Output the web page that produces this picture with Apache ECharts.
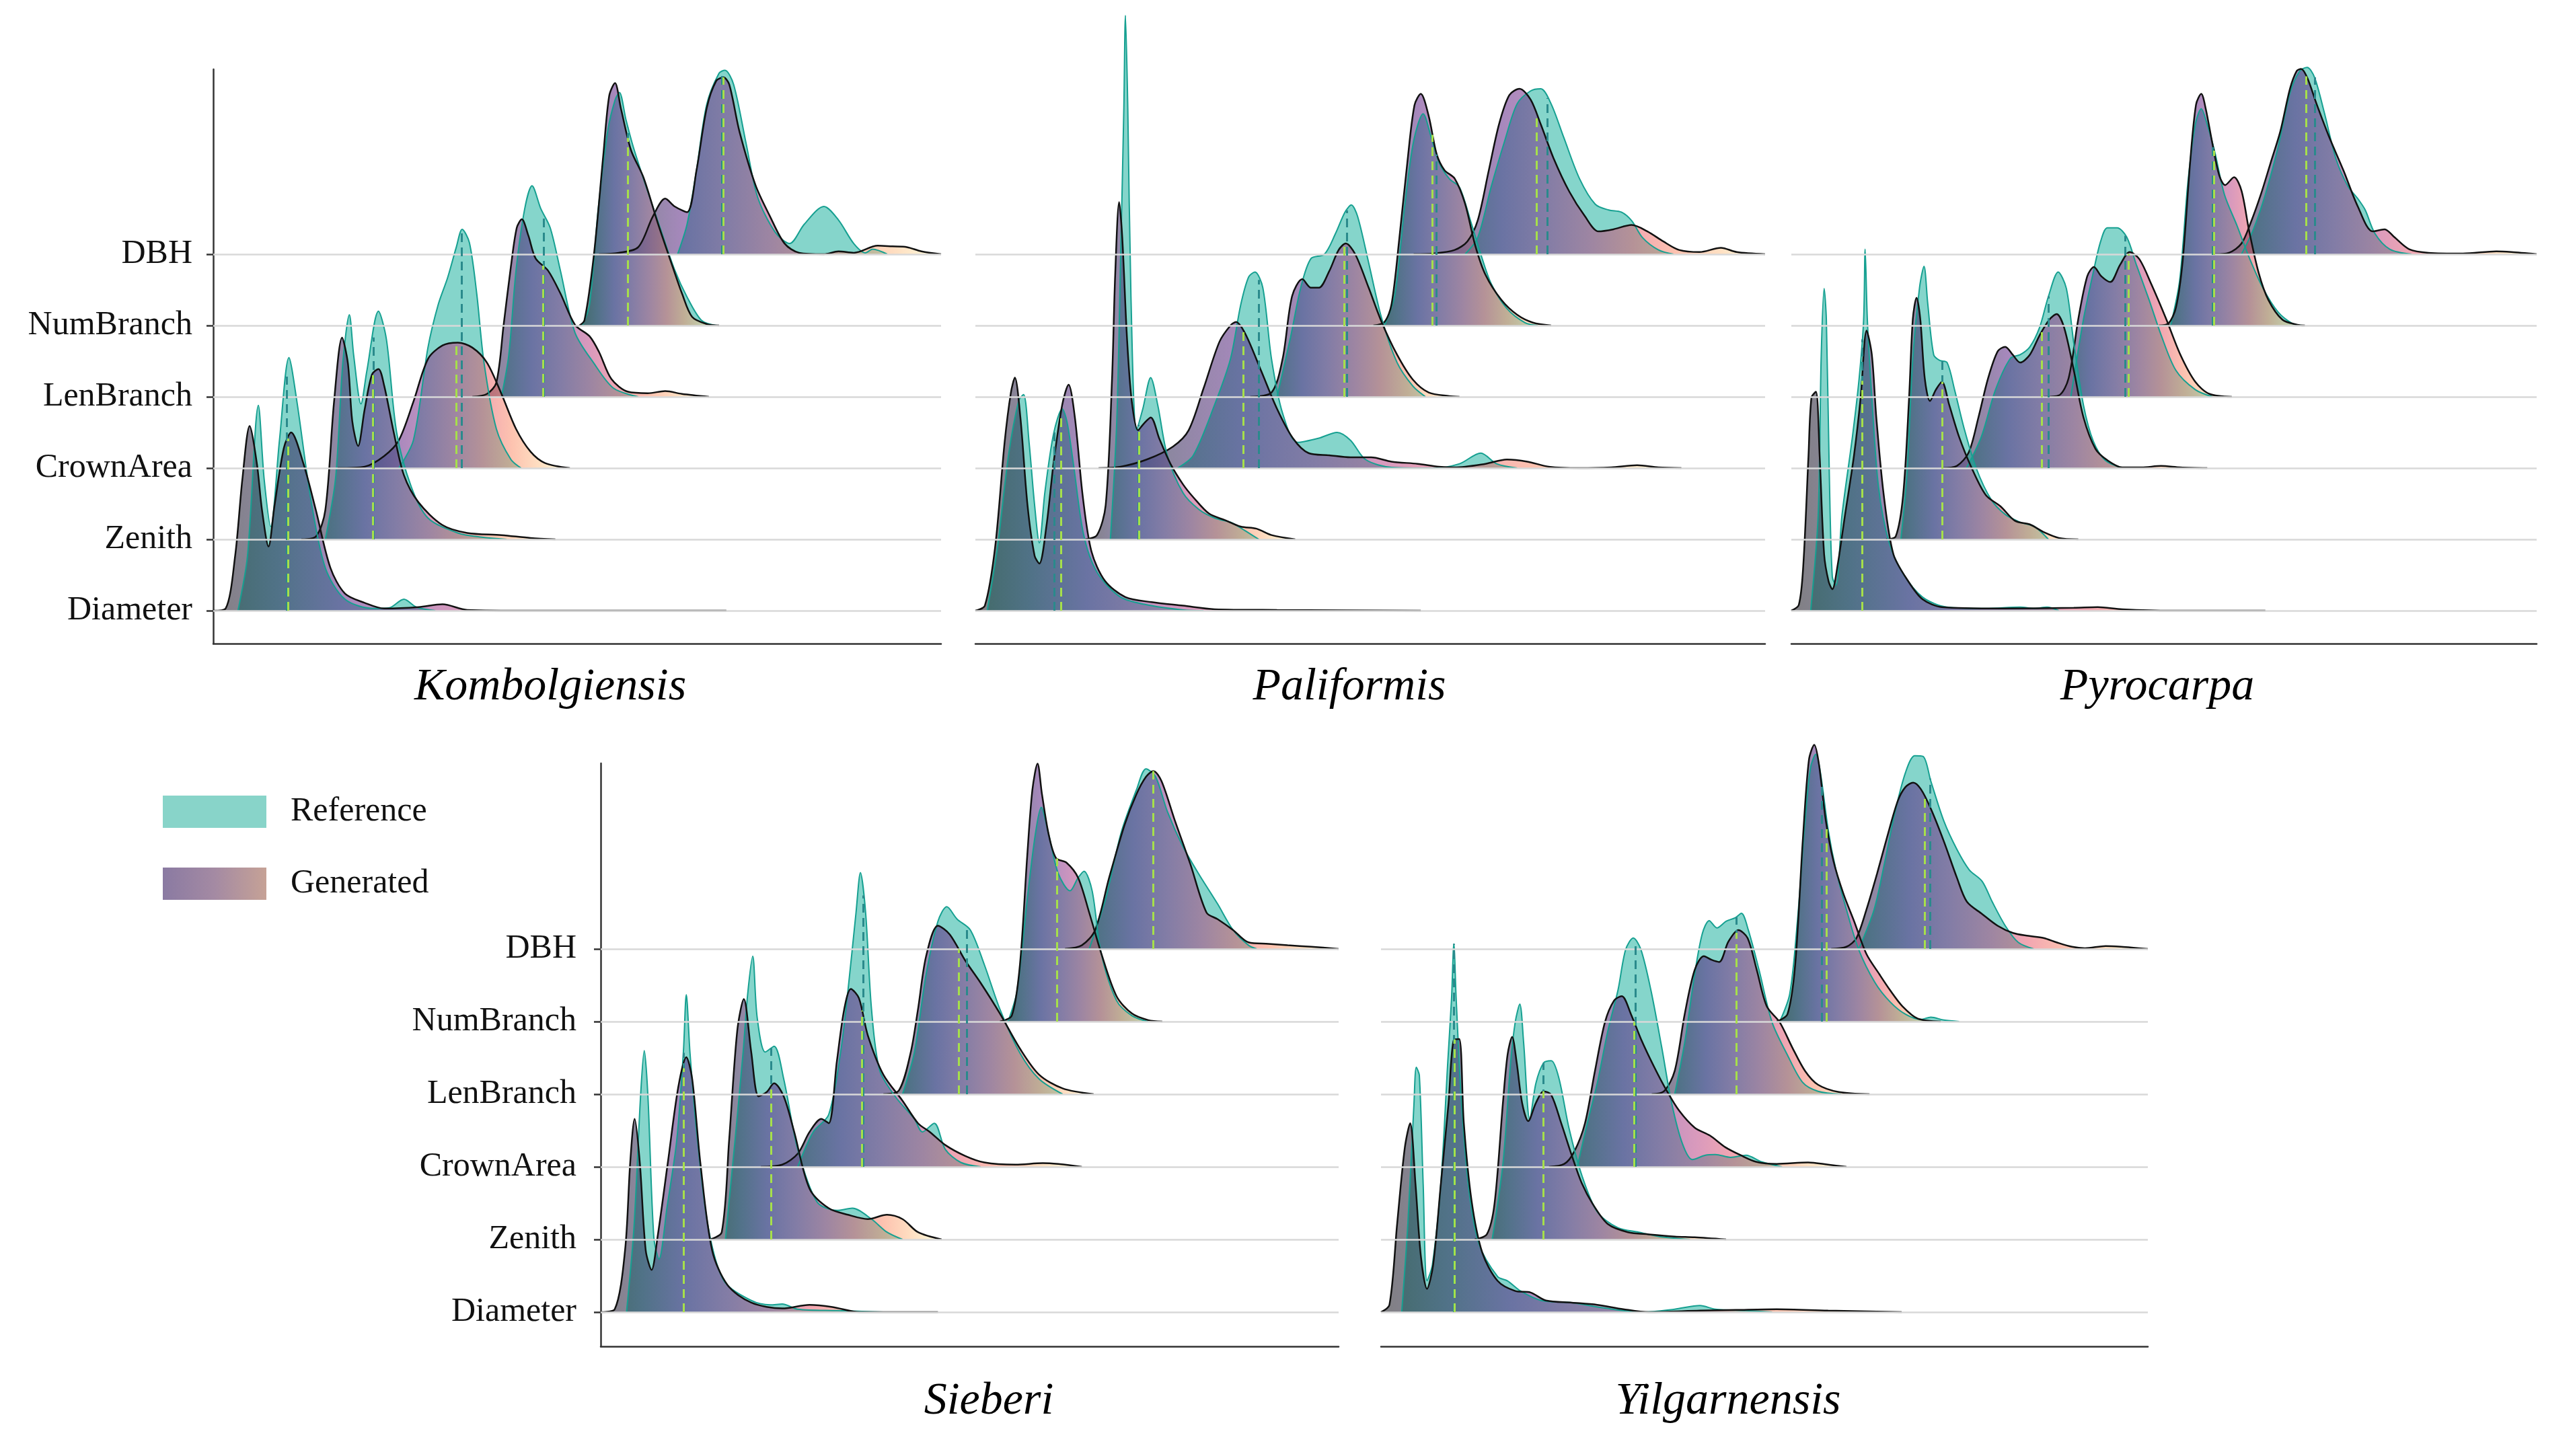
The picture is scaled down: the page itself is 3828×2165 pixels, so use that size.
<!DOCTYPE html>
<html>
<head>
<meta charset="utf-8">
<title>Ridgelines</title>
<script src="https://cdn.jsdelivr.net/npm/echarts@6/dist/echarts.min.js"></script>
<style>
  html, body { margin: 0; padding: 0; background: #fff; }
  #chart { width: 3828px; height: 2165px; }
</style>
</head>
<body>
<div id="chart"></div>
<script>
// traits, bottom ridge first
const traitNames = ['Diameter', 'Zenith', 'CrownArea', 'LenBranch', 'NumBranch', 'DBH']
const speciesNames = ['Kombolgiensis', 'Paliformis', 'Pyrocarpa', 'Sieberi', 'Yilgarnensis']

// each curve: [x position 0-100 along the panel, density height in ridge spacings]
const kombolgiensisRef = [
  [[3.4,0],[4.7,0.76],[6.2,2.88],[7.0,1.84],[7.9,1.18],[9.1,2.39],[10.4,3.55],[11.5,2.93],[13.4,1.57],[15.4,0.6],[18.1,0.16],[22.1,0.03],[24.2,0.04],[26.2,0.16],[27.9,0.05],[30.5,0]],
  [[15.4,0],[16.8,0.85],[17.8,2.47],[18.7,3.15],[19.3,2.58],[20.3,1.9],[21.1,2.36],[22.7,3.2],[23.8,2.8],[25.2,1.5],[27.2,0.74],[29.5,0.3],[33.6,0.09],[36.9,0.03],[40.3,0]],
  [[25.5,0],[27.5,0.39],[29.5,1.69],[30.9,2.29],[32.2,2.67],[33.4,3.1],[34.2,3.35],[35.2,3.16],[36.2,2.45],[37.2,1.48],[38.9,0.55],[40.9,0.12],[42.3,0]],
  [[39.6,0],[40.6,0.58],[41.6,1.77],[42.8,2.64],[43.8,2.96],[45.0,2.64],[46.3,2.37],[47.7,1.77],[49.7,0.9],[52.3,0.47],[55.0,0.12],[58.4,0]],
  [[50.7,0],[51.7,0.29],[52.9,1.64],[54.2,2.73],[55.2,3.16],[55.8,3.27],[56.7,2.89],[57.7,2.51],[59.4,1.97],[61.4,1.37],[63.4,0.78],[65.1,0.4],[67.1,0.07],[69.1,0]],
  [[63.8,0],[65.1,0.42],[66.4,1.18],[67.8,2.1],[69.5,2.54],[70.3,2.58],[71.5,2.38],[73.2,1.56],[74.8,0.8],[77.2,0.31],[79.2,0.15],[81.2,0.42],[83.9,0.67],[85.9,0.48],[88.0,0.15],[89.6,0.02],[90.6,0.07],[92.6,0]]
]
const kombolgiensisGen = [
  [[0,0],[1.7,0.03],[3.0,0.76],[4.0,1.84],[5.0,2.59],[6.0,2.06],[6.7,1.41],[7.6,0.9],[8.4,1.46],[9.7,2.28],[10.7,2.5],[12.4,2.06],[14.1,1.41],[16.1,0.6],[18.1,0.24],[20.8,0.11],[23.5,0.03],[28.2,0.05],[31.5,0.09],[34.9,0.01],[43.6,0],[70.5,0]],
  [[12.1,0],[14.1,0.04],[15.4,0.41],[16.6,1.93],[17.7,2.83],[18.5,2.47],[19.1,1.66],[19.9,1.31],[20.8,1.82],[21.8,2.31],[22.7,2.39],[23.5,2.15],[24.8,1.5],[26.2,0.9],[28.2,0.52],[31.5,0.2],[34.9,0.09],[39.6,0.06],[43.6,0.02],[47.0,0]],
  [[17.1,0],[20.8,0.02],[23.5,0.17],[25.5,0.39],[27.5,0.93],[29.5,1.53],[31.5,1.72],[33.6,1.76],[35.6,1.69],[37.6,1.48],[39.6,1.04],[41.6,0.55],[43.6,0.23],[45.6,0.07],[49.0,0]],
  [[35.6,0],[37.6,0.04],[38.9,0.2],[39.9,1.01],[40.9,1.83],[41.7,2.37],[42.4,2.49],[43.3,2.26],[44.3,1.94],[46.0,1.77],[47.7,1.45],[49.7,1.01],[51.7,0.85],[53.0,0.63],[54.7,0.25],[57.0,0.07],[59.7,0.05],[62.1,0.08],[64.4,0.04],[68.1,0]],
  [[50.3,0],[51.0,0.07],[52.3,0.99],[53.6,2.4],[54.4,3.22],[55.2,3.4],[56.0,3.05],[57.4,2.46],[59.1,2.08],[61.1,1.43],[63.1,0.83],[64.4,0.45],[65.8,0.12],[67.8,0.02],[69.5,0]],
  [[53.0,0],[55.7,0.02],[58.4,0.1],[60.4,0.53],[62.1,0.78],[63.4,0.67],[65.1,0.59],[66.4,1.18],[67.8,2.05],[69.1,2.43],[70.1,2.48],[70.9,2.38],[72.3,1.72],[74.5,0.97],[76.5,0.53],[78.5,0.15],[80.5,0.02],[83.9,0],[85.9,0.04],[88.0,0.02],[91.3,0.12],[93.3,0.11],[95.3,0.1],[97.3,0.04],[100,0]]
]
const kombolgiensisRefMedian = [10.1, 22.0, 34.1, 45.4, 57.0, 69.9]
const kombolgiensisGenMedian = [10.3, 21.9, 33.4, 45.3, 57.0, 70.1]

const paliformisRef = [
  [[1.5,0],[2.8,0.89],[4.2,2.18],[5.5,2.95],[6.1,3.03],[6.8,2.36],[7.5,1.48],[8.1,0.95],[8.8,1.66],[9.9,2.48],[11.0,2.83],[11.6,2.65],[12.4,2.07],[13.7,1.07],[15.4,0.54],[18.4,0.19],[22.3,0.07],[26.3,0.01],[28.9,0]],
  [[17.1,0],[17.9,1.65],[18.4,4.0],[18.8,6.05],[19.0,7.35],[19.3,6.05],[19.7,3.41],[20.4,1.53],[21.2,1.83],[22.2,2.27],[23.1,1.88],[24.3,1.18],[26.3,0.65],[28.3,0.42],[30.3,0.3],[32.3,0.24],[33.3,0.18],[34.6,0.09],[35.9,0]],
  [[25.6,0],[27.6,0.18],[30.3,0.89],[32.3,1.53],[33.6,2.29],[34.6,2.68],[35.4,2.75],[36.4,2.53],[37.5,1.53],[38.9,0.77],[40.8,0.36],[43.5,0.42],[45.8,0.5],[47.5,0.39],[49.4,0.12],[52.7,0.01],[58.0,0],[61.3,0.06],[64.0,0.21],[66.0,0.06],[68.6,0]],
  [[38.2,0],[39.9,0.83],[41.2,1.53],[42.5,1.94],[44.2,2.0],[45.6,2.29],[46.8,2.59],[47.6,2.69],[48.4,2.53],[49.8,1.88],[51.4,1.12],[53.4,0.48],[55.4,0.15],[57.0,0]],
  [[51.8,0],[53.1,0.42],[54.4,1.71],[55.5,2.59],[56.7,2.97],[57.7,2.65],[58.7,2.29],[60.0,2.06],[61.3,1.94],[62.7,1.47],[64.0,1.0],[65.3,0.59],[67.3,0.24],[69.6,0.04],[71.2,0]],
  [[62.0,0],[63.6,0.23],[65.3,0.94],[67.0,1.58],[68.6,2.11],[70.3,2.29],[71.6,2.32],[72.9,2.11],[74.5,1.64],[76.5,1.06],[78.5,0.7],[80.2,0.62],[81.8,0.59],[83.1,0.47],[84.5,0.23],[86.5,0.06],[88.4,0]]
]
const paliformisGen = [
  [[0,0],[1.2,0.07],[2.5,0.89],[3.7,2.36],[4.5,3.06],[5.0,3.27],[5.7,2.71],[6.6,1.48],[7.5,0.77],[8.1,0.66],[9.0,1.19],[9.9,2.07],[11.0,2.89],[11.8,3.17],[12.6,2.71],[13.6,1.6],[14.7,0.83],[16.4,0.42],[19.0,0.19],[22.3,0.12],[26.3,0.07],[30.3,0.02],[38.2,0.01],[56.4,0]],
  [[13.9,0],[15.4,0.06],[16.5,0.48],[17.3,2.24],[17.7,3.7],[18.2,4.73],[18.6,4.23],[19.2,2.82],[19.8,1.94],[20.6,1.53],[21.3,1.62],[22.2,1.71],[23.3,1.41],[24.7,1.06],[26.3,0.77],[27.6,0.59],[29.6,0.36],[31.6,0.27],[33.6,0.18],[35.6,0.15],[37.5,0.06],[40.5,0]],
  [[15.6,0],[18.4,0.02],[21.7,0.12],[25.0,0.3],[27.0,0.53],[28.9,1.12],[30.9,1.77],[32.3,2.0],[33.0,2.05],[34.2,1.88],[36.2,1.36],[38.2,0.83],[40.2,0.42],[42.2,0.21],[44.8,0.18],[47.5,0.15],[50.1,0.15],[52.7,0.09],[56.0,0.06],[58.7,0.02],[60.7,0.01],[64.6,0.06],[67.3,0.12],[69.9,0.09],[72.6,0.02],[76.5,0],[80.5,0.01],[83.8,0.04],[86.5,0.01],[89.4,0]],
  [[34.8,0],[37.5,0.06],[38.9,0.53],[40.1,1.41],[41.4,1.65],[42.5,1.53],[43.5,1.53],[44.8,1.76],[46.0,2.06],[46.9,2.15],[48.1,2.0],[49.8,1.53],[51.4,1.06],[53.4,0.59],[55.4,0.24],[57.4,0.06],[60.0,0.01],[61.3,0]],
  [[50.4,0],[51.8,0.05],[52.7,0.3],[53.7,1.24],[54.7,2.29],[55.6,3.09],[56.4,3.25],[57.4,2.94],[58.4,2.41],[59.4,2.18],[60.7,2.06],[62.0,1.71],[63.3,1.12],[64.6,0.71],[66.6,0.36],[68.6,0.15],[70.6,0.04],[72.9,0]],
  [[55.5,0],[58.0,0.01],[60.7,0.06],[62.3,0.18],[63.6,0.47],[65.0,1.17],[66.3,1.82],[67.6,2.23],[68.9,2.32],[70.3,2.17],[71.6,1.82],[73.2,1.35],[75.2,0.88],[77.2,0.53],[78.9,0.32],[80.8,0.35],[83.1,0.41],[85.1,0.32],[87.1,0.18],[89.1,0.06],[91.7,0.03],[94.4,0.09],[96.4,0.03],[100,0]]
]
const paliformisRefMedian = [10.0, 20.6, 35.9, 47.0, 58.4, 72.4]
const paliformisGenMedian = [10.8, 20.7, 33.9, 46.7, 57.9, 71.1]

const pyrocarpaRef = [
  [[2.6,0],[3.6,1.34],[4.0,3.54],[4.4,4.52],[4.7,4.08],[5.1,1.89],[5.5,0.47],[6.0,0.36],[6.8,1.34],[8.2,2.44],[9.1,3.26],[9.7,4.08],[9.9,5.07],[10.2,4.08],[10.8,2.99],[11.7,1.73],[13.1,0.96],[15.0,0.52],[17.6,0.19],[20.9,0.05],[26.1,0.03],[30.7,0.05],[32.6,0.03],[34.3,0.05],[35.9,0]],
  [[14.7,0],[15.5,0.89],[16.3,2.54],[17.2,3.53],[17.8,3.83],[18.3,3.31],[19.1,2.59],[19.9,2.51],[20.9,2.48],[21.9,2.1],[23.2,1.55],[24.8,1.0],[26.8,0.56],[28.7,0.35],[30.7,0.24],[32.6,0.18],[34.5,0]],
  [[23.5,0],[25.5,0.44],[27.4,1.1],[29.4,1.54],[30.7,1.59],[32.0,1.7],[33.3,1.97],[34.5,2.41],[35.8,2.75],[36.9,2.52],[37.9,1.75],[39.2,0.88],[40.5,0.38],[42.1,0.11],[44.4,0]],
  [[37.5,0],[39.2,1.09],[40.5,1.74],[41.5,2.18],[42.4,2.37],[43.7,2.37],[45.0,2.24],[46.3,1.85],[48.0,1.36],[49.6,0.87],[51.6,0.37],[54.2,0.1],[56.5,0]],
  [[50.9,0],[52.1,0.63],[53.2,2.0],[54.2,2.82],[55.0,3.04],[55.8,2.82],[56.8,2.44],[58.1,1.84],[59.8,1.4],[61.4,0.96],[63.3,0.52],[65.3,0.19],[67.2,0.03],[68.5,0]],
  [[60.4,0],[62.0,0.35],[63.6,0.84],[65.3,1.5],[66.9,2.26],[68.2,2.57],[69.2,2.62],[70.2,2.48],[71.5,1.99],[73.1,1.33],[74.7,0.95],[76.0,0.78],[77.0,0.62],[78.3,0.29],[80.3,0.07],[83.2,0]]
]
const pyrocarpaGen = [
  [[0,0],[1.0,0.08],[1.6,0.63],[2.3,2.17],[2.7,2.99],[3.3,3.07],[3.8,2.17],[4.4,0.79],[5.0,0.41],[5.5,0.3],[6.2,0.63],[7.2,1.34],[8.4,2.17],[9.3,2.99],[10.1,3.93],[10.8,3.59],[11.4,2.71],[12.4,1.62],[13.7,0.79],[15.7,0.41],[17.6,0.16],[20.2,0.05],[28.1,0.03],[37.9,0.04],[41.1,0.05],[44.4,0.02],[50.9,0],[63.6,0]],
  [[12.7,0],[14.0,0.04],[15.0,0.62],[15.8,1.99],[16.3,3.09],[16.8,3.39],[17.3,3.09],[17.9,2.26],[18.6,1.94],[19.4,2.1],[20.2,2.21],[21.2,1.88],[22.5,1.44],[24.2,1.0],[26.1,0.62],[28.1,0.46],[30.0,0.26],[32.0,0.21],[33.9,0.1],[35.9,0.02],[38.5,0]],
  [[20.2,0],[22.2,0.03],[23.8,0.22],[25.1,0.71],[26.4,1.26],[27.7,1.64],[28.7,1.7],[29.7,1.59],[30.7,1.48],[32.0,1.59],[33.3,1.86],[34.6,2.08],[35.6,2.16],[36.6,1.97],[37.9,1.37],[39.2,0.71],[40.8,0.27],[42.4,0.11],[44.4,0.01],[47.0,0.01],[49.6,0.03],[52.2,0.01],[55.8,0]],
  [[33.9,0],[35.9,0.02],[37.2,0.26],[38.5,1.09],[39.7,1.69],[40.6,1.82],[41.6,1.69],[42.8,1.61],[44.1,1.85],[45.4,2.03],[46.7,1.93],[48.3,1.58],[50.3,1.09],[52.2,0.59],[54.2,0.21],[56.1,0.04],[59.1,0]],
  [[49.3,0],[50.6,0.03],[51.6,0.25],[52.5,0.9],[53.5,2.28],[54.3,3.1],[55.0,3.25],[55.6,3.04],[56.5,2.55],[57.4,2.11],[58.2,1.97],[59.4,2.08],[60.4,1.89],[61.4,1.34],[62.7,0.74],[64.0,0.36],[65.9,0.08],[67.9,0.01],[68.9,0]],
  [[56.8,0],[58.7,0.02],[60.4,0.15],[61.7,0.46],[63.0,0.84],[64.3,1.28],[65.6,1.72],[66.9,2.32],[67.8,2.57],[68.4,2.6],[69.2,2.48],[70.5,2.1],[72.1,1.66],[74.1,1.17],[76.0,0.67],[78.0,0.32],[79.6,0.35],[80.9,0.24],[82.9,0.07],[85.5,0.02],[90.1,0.01],[94.6,0.04],[96.6,0.03],[100,0]]
]
const pyrocarpaRefMedian = [9.5, 20.2, 34.5, 44.8, 56.5, 70.2]
const pyrocarpaGenMedian = [9.5, 20.2, 33.6, 45.2, 56.7, 69.1]

const sieberiRef = [
  [[3.5,0],[4.5,1.15],[5.4,2.97],[5.9,3.6],[6.4,2.97],[7.2,1.03],[7.9,0.73],[9.0,1.45],[10.3,2.36],[11.2,3.57],[11.6,4.37],[12.1,3.57],[13.0,2.48],[14.6,1.15],[16.7,0.43],[20.4,0.16],[23.0,0.1],[24.6,0.11],[26.7,0.04],[32.0,0.02],[38.3,0]],
  [[16.9,0],[18.2,1.36],[19.3,2.58],[19.9,3.36],[20.6,3.9],[21.2,3.06],[22.3,2.58],[23.5,2.66],[24.8,2.21],[26.7,1.24],[29.3,0.52],[32.0,0.4],[34.1,0.43],[36.7,0.28],[38.8,0.1],[40.9,0]],
  [[26.7,0],[28.8,0.48],[30.9,0.72],[32.5,1.57],[33.5,2.42],[34.6,3.5],[35.2,4.05],[35.9,3.5],[36.7,2.17],[37.8,1.33],[39.9,0.97],[42.5,0.66],[43.6,0.48],[45.2,0.6],[46.7,0.24],[48.8,0.06],[51.5,0]],
  [[40.9,0],[42.5,0.57],[44.1,1.65],[45.7,2.38],[46.9,2.58],[48.3,2.41],[50.1,2.26],[52.0,1.78],[54.1,1.17],[56.8,0.57],[59.4,0.21],[62.6,0]],
  [[55.2,0],[56.4,0.41],[57.8,1.68],[58.9,2.58],[59.7,2.95],[60.7,2.58],[62.0,2.04],[63.6,1.8],[64.7,1.98],[65.5,2.07],[66.6,1.8],[67.8,0.95],[69.9,0.29],[72.0,0.08],[74.2,0]],
  [[66.2,0],[68.4,0.68],[70.5,1.59],[72.6,2.19],[73.9,2.48],[75.2,2.37],[76.8,1.89],[78.9,1.41],[81.0,1.04],[83.6,0.62],[85.7,0.26],[87.8,0.05],[88.9,0]]
]
const sieberiGen = [
  [[0,0],[1.9,0.04],[3.3,0.85],[4.0,2.06],[4.6,2.66],[5.3,2.06],[6.1,0.85],[6.9,0.58],[7.7,1.03],[9.1,2.06],[10.5,3.09],[11.6,3.51],[12.4,3.21],[13.5,2.06],[15.1,0.85],[17.2,0.37],[20.4,0.13],[24.6,0.05],[28.3,0.1],[31.4,0.07],[35.1,0],[45.7,0]],
  [[14.8,0],[16.4,0.1],[17.4,1.36],[18.5,2.87],[19.4,3.31],[20.4,2.58],[21.4,1.97],[22.5,2.03],[23.5,2.15],[24.8,1.97],[26.2,1.49],[28.3,0.7],[30.9,0.43],[33.5,0.34],[36.2,0.28],[38.8,0.34],[40.9,0.28],[43.0,0.1],[46.2,0]],
  [[21.7,0],[24.6,0.03],[26.7,0.18],[28.3,0.48],[29.9,0.66],[30.9,0.6],[32.0,1.45],[33.0,2.17],[33.9,2.45],[35.0,2.32],[36.2,1.81],[38.3,1.27],[40.9,0.91],[43.0,0.6],[44.6,0.48],[46.7,0.3],[49.4,0.15],[52.0,0.06],[56.2,0.03],[59.9,0.05],[65.2,0]],
  [[38.3,0],[40.4,0.05],[42.0,0.57],[43.0,1.17],[44.1,1.9],[45.7,2.32],[47.3,2.2],[49.4,1.84],[51.5,1.53],[54.1,1.11],[56.8,0.63],[59.4,0.27],[62.6,0.08],[66.8,0]],
  [[54.1,0],[55.7,0.08],[56.8,0.77],[57.8,2.28],[58.5,3.19],[59.2,3.55],[59.8,3.13],[60.7,2.58],[61.7,2.25],[63.1,2.19],[64.7,1.98],[66.2,1.5],[67.8,0.95],[69.9,0.35],[72.0,0.11],[74.2,0.02],[76.1,0]],
  [[62.9,0],[65.2,0.05],[67.0,0.26],[68.9,0.98],[71.0,1.71],[72.6,2.13],[73.9,2.37],[74.9,2.45],[76.0,2.31],[77.8,1.77],[79.9,1.17],[82.1,0.5],[83.6,0.41],[85.7,0.26],[87.8,0.09],[90.5,0.07],[93.1,0.05],[96.3,0.03],[100,0]]
]
const sieberiRefMedian = [11.2, 23.1, 35.6, 49.6, 61.8, 74.9]
const sieberiGenMedian = [11.2, 23.1, 35.4, 48.5, 61.8, 74.9]

const yilgarnensisRef = [
  [[2.7,0],[3.5,1.21],[4.3,2.87],[4.6,3.37],[5.0,3.26],[5.5,1.76],[6.0,0.43],[6.7,0.65],[7.8,1.76],[8.7,3.43],[9.2,4.32],[9.5,5.07],[9.8,4.32],[10.5,2.87],[11.5,1.65],[12.8,0.93],[15.2,0.49],[16.5,0.43],[18.2,0.29],[20.9,0.16],[24.9,0.13],[28.9,0.06],[34.2,0],[38.3,0.04],[41.6,0.09],[43.6,0.04],[47.6,0.02],[51.0,0]],
  [[14.5,0],[15.9,1.04],[16.9,2.43],[17.5,2.99],[18.1,3.24],[18.6,2.71],[19.4,1.65],[20.2,2.15],[21.2,2.43],[22.2,2.46],[23.2,2.22],[24.5,1.54],[26.2,0.88],[28.2,0.38],[30.9,0.16],[33.6,0.1],[36.3,0.04],[40.3,0]],
  [[25.6,0],[26.9,0.6],[28.2,1.15],[29.6,1.88],[30.9,2.43],[31.9,2.99],[32.9,3.15],[33.9,2.99],[35.2,2.43],[36.6,1.65],[37.9,0.88],[39.3,0.32],[40.6,0.1],[42.3,0.16],[43.6,0.17],[45.6,0.13],[47.6,0.16],[49.6,0.07],[52.3,0]],
  [[38.3,0],[39.6,0.71],[40.9,1.65],[41.9,2.21],[42.8,2.39],[43.8,2.29],[45.0,2.38],[46.2,2.43],[47.0,2.49],[47.9,2.26],[49.3,1.71],[51.0,0.99],[53.0,0.54],[55.0,0.16],[57.0,0.04],[60.0,0]],
  [[52.0,0],[53.3,0.38],[54.3,1.38],[55.3,2.76],[56.0,3.49],[56.7,3.68],[57.3,3.43],[58.3,2.65],[59.3,2.1],[60.7,1.54],[62.3,0.99],[64.4,0.54],[66.4,0.27],[68.4,0.1],[70.4,0.03],[71.7,0.06],[73.4,0.02],[75.4,0]],
  [[62.3,0],[64.3,0.54],[65.7,1.2],[67.0,1.87],[68.4,2.43],[69.6,2.66],[70.7,2.65],[71.7,2.31],[73.4,1.76],[75.1,1.37],[76.7,1.09],[78.4,0.93],[79.7,0.65],[81.4,0.32],[83.1,0.09],[85.1,0]]
]
const yilgarnensisGen = [
  [[0,0],[1.1,0.1],[2.1,1.21],[3.1,2.26],[3.8,2.6],[4.5,1.76],[5.2,0.77],[6.0,0.32],[6.8,0.65],[7.8,1.76],[8.8,2.87],[9.5,3.75],[10.2,3.76],[10.8,2.6],[11.8,1.54],[13.2,0.82],[15.2,0.43],[17.5,0.29],[19.5,0.27],[21.5,0.16],[24.9,0.13],[28.2,0.1],[31.6,0.04],[34.9,0],[41.6,0.02],[46.3,0.03],[51.6,0.04],[58.3,0.02],[67.9,0]],
  [[12.2,0],[13.8,0.07],[14.8,0.49],[15.9,1.88],[16.5,2.54],[17.1,2.79],[17.7,2.43],[18.4,1.88],[19.2,1.63],[20.2,1.88],[21.2,2.04],[22.2,1.99],[23.5,1.6],[24.9,1.15],[26.2,0.77],[27.6,0.49],[29.6,0.21],[32.2,0.1],[34.9,0.07],[38.3,0.04],[40.9,0.03],[45.0,0]],
  [[21.9,0],[23.9,0.04],[25.2,0.21],[26.6,0.6],[27.9,1.32],[29.2,1.99],[30.4,2.29],[31.4,2.35],[32.6,2.1],[33.9,1.76],[35.6,1.38],[37.3,1.04],[38.9,0.77],[40.9,0.54],[42.9,0.43],[44.9,0.27],[46.9,0.16],[48.9,0.07],[51.6,0.04],[55.7,0.06],[58.3,0.03],[60.7,0]],
  [[35.3,0],[36.9,0.04],[38.3,0.32],[39.6,1.1],[40.9,1.71],[42.1,1.9],[43.1,1.85],[44.1,1.82],[45.3,2.1],[46.6,2.26],[47.8,2.15],[49.0,1.71],[50.3,1.21],[52.0,0.99],[53.6,0.65],[55.3,0.32],[57.0,0.13],[59.7,0.03],[63.7,0]],
  [[51.6,0],[53.0,0.1],[54.0,0.77],[55.0,2.49],[55.8,3.6],[56.5,3.81],[57.1,3.55],[58.0,2.77],[59.0,2.21],[60.3,1.76],[61.7,1.38],[63.3,0.93],[65.0,0.65],[66.4,0.43],[68.0,0.21],[70.0,0.04],[73.0,0]],
  [[58.7,0],[60.7,0.03],[62.0,0.15],[63.3,0.54],[64.7,1.04],[66.0,1.54],[67.4,2.04],[68.4,2.23],[69.4,2.29],[70.4,2.2],[71.7,1.93],[73.4,1.48],[75.1,0.98],[76.4,0.65],[78.4,0.48],[80.4,0.32],[82.4,0.22],[84.4,0.18],[86.4,0.15],[88.1,0.09],[90.1,0.03],[91.8,0.01],[94.5,0.04],[96.5,0.03],[100,0]]
]
const yilgarnensisRefMedian = [9.5, 21.2, 33.2, 46.3, 57.5, 71.6]
const yilgarnensisGenMedian = [9.6, 21.2, 33.0, 46.3, 58.1, 70.9]

const FONT = "'Liberation Serif', 'Times New Roman', serif"

// panel placement in pixels
const panels = [
  { ref: kombolgiensisRef, gen: kombolgiensisGen, refMed: kombolgiensisRefMedian, genMed: kombolgiensisGenMedian,
    left: 317, width: 1082, top: 103, bottom: 957, base: 908, unit: 106, yLine: true, labelMargin: 31, titleX: 818, titleY: 1022 },
  { ref: paliformisRef, gen: paliformisGen, refMed: paliformisRefMedian, genMed: paliformisGenMedian,
    left: 1450, width: 1174, top: 103, bottom: 957, base: 908, unit: 106, yLine: false, labelMargin: 31, titleX: 2006, titleY: 1022 },
  { ref: pyrocarpaRef, gen: pyrocarpaGen, refMed: pyrocarpaRefMedian, genMed: pyrocarpaGenMedian,
    left: 2663, width: 1108, top: 103, bottom: 957, base: 908, unit: 106, yLine: false, labelMargin: 31, titleX: 3207, titleY: 1022 },
  { ref: sieberiRef, gen: sieberiGen, refMed: sieberiRefMedian, genMed: sieberiGenMedian,
    left: 893, width: 1097, top: 1135, bottom: 2002, base: 1951, unit: 108, yLine: true, labelMargin: 36, titleX: 1470, titleY: 2084 },
  { ref: yilgarnensisRef, gen: yilgarnensisGen, refMed: yilgarnensisRefMedian, genMed: yilgarnensisGenMedian,
    left: 2053, width: 1140, top: 1135, bottom: 2002, base: 1951, unit: 108, yLine: false, labelMargin: 36, titleX: 2569, titleY: 2084 }
]

const chart = echarts.init(document.getElementById('chart'), null, { renderer: 'canvas', devicePixelRatio: 1 })

// magma ramp, semi transparent
function magmaFill() {
  const a = 0.5
  return new echarts.graphic.LinearGradient(0, 0, 1, 0, [
    { offset: 0, color: `rgba(0,0,4,${a})` },
    { offset: 0.125, color: `rgba(28,16,68,${a})` },
    { offset: 0.25, color: `rgba(79,18,123,${a})` },
    { offset: 0.375, color: `rgba(129,37,129,${a})` },
    { offset: 0.5, color: `rgba(181,54,122,${a})` },
    { offset: 0.625, color: `rgba(229,80,100,${a})` },
    { offset: 0.75, color: `rgba(251,135,97,${a})` },
    { offset: 0.875, color: `rgba(254,194,135,${a})` },
    { offset: 1, color: `rgba(252,253,191,${a})` }
  ])
}

function heightAt(curve, x) {
  for (let i = 1; i < curve.length; i++) {
    if (curve[i][0] >= x) {
      const a = curve[i - 1]
      const b = curve[i]
      const t = (x - a[0]) / ((b[0] - a[0]) || 1)
      return a[1] + t * (b[1] - a[1])
    }
  }
  return 0
}

const grids = []
const xAxes = []
const yAxes = []
const series = []

panels.forEach((p, pi) => {
  grids.push({ left: p.left, top: p.top, width: p.width, height: p.bottom - p.top, containLabel: false, outerBoundsMode: 'none' })
  xAxes.push({
    type: 'value', gridIndex: pi, min: 0, max: 100, position: 'bottom',
    axisLine: { show: true, onZero: false, lineStyle: { color: '#333', width: 2.5 } },
    axisTick: { show: false }, axisLabel: { show: false }, splitLine: { show: false }
  })
  yAxes.push({
    type: 'value', gridIndex: pi,
    min: -(p.bottom - p.base) / p.unit,
    max: (p.base - p.top) / p.unit,
    axisLine: { show: p.yLine, onZero: false, lineStyle: { color: '#333', width: 2.5 } },
    axisTick: { show: p.yLine, length: 10, lineStyle: { color: '#333', width: 2.5 }, customValues: [0, 1, 2, 3, 4, 5] },
    axisLabel: {
      show: p.yLine, customValues: [0, 1, 2, 3, 4, 5], margin: p.labelMargin,
      formatter: v => traitNames[Math.round(v)] || '',
      fontFamily: FONT, fontSize: 50, color: '#111'
    },
    splitLine: { show: false }
  })
  // horizontal baselines
  series.push({
    type: 'line', xAxisIndex: pi, yAxisIndex: pi, data: [[0, 0]], symbol: 'none', silent: true,
    lineStyle: { opacity: 0 }, z: 1,
    markLine: {
      silent: true, symbol: ['none', 'none'], label: { show: false }, animation: false,
      lineStyle: { color: '#d8d8d8', type: 'solid', width: 2.5 },
      data: traitNames.map((_, i) => ({ yAxis: i }))
    }
  })
  // top ridge first so lower ridges sit in front
  for (let ti = traitNames.length - 1; ti >= 0; ti--) {
    const kinds = [
      { name: 'Reference', curve: p.ref[ti], med: p.refMed[ti], line: '#16a091', lw: 2,
        fill: 'rgba(32,178,160,0.55)', medColor: '#2a8a8c' },
      { name: 'Generated', curve: p.gen[ti], med: p.genMed[ti], line: '#111', lw: 2.5,
        fill: magmaFill(), medColor: '#a6e04a' }
    ]
    kinds.forEach(k => {
      const h = heightAt(k.curve, k.med)
      series.push({
        type: 'line', name: k.name, xAxisIndex: pi, yAxisIndex: pi,
        data: k.curve.map(pt => [pt[0], ti + pt[1]]),
        smooth: 0.3, symbol: 'none', clip: false, silent: true, z: 2,
        lineStyle: { color: k.line, width: k.lw },
        itemStyle: { color: k.line },
        areaStyle: { origin: ti, color: k.fill, opacity: 1 },
        markLine: {
          silent: true, symbol: ['none', 'none'], label: { show: false }, animation: false,
          lineStyle: { color: k.medColor, type: [13, 8], width: 3 },
          data: [[{ coord: [k.med, ti] }, { coord: [k.med, ti + h] }]]
        }
      })
    })
  }
})

const option = {
  backgroundColor: '#fff',
  animation: false,
  grid: grids,
  xAxis: xAxes,
  yAxis: yAxes,
  series,
  legend: {
    orient: 'vertical', left: 237, top: 1177, itemWidth: 154, itemHeight: 48, itemGap: 57,
    selectedMode: false, icon: 'rect',
    formatter: name => '{t|' + name + '}',
    textStyle: { rich: { t: { fontFamily: FONT, fontSize: 50, color: '#111', padding: [0, 0, 0, 31] } } },
    data: [
      { name: 'Reference', itemStyle: { color: '#88d4c9', borderWidth: 0 } },
      { name: 'Generated', itemStyle: { borderWidth: 0, color: new echarts.graphic.LinearGradient(0, 0, 1, 0, [
        { offset: 0, color: '#8a7aa2' }, { offset: 0.5, color: '#a48aa3' }, { offset: 1, color: '#c6a296' }
      ]) } }
    ]
  },
  graphic: panels.map((p, pi) => ({
    type: 'text', x: p.titleX, y: p.titleY, silent: true,
    style: {
      text: speciesNames[pi], font: `italic 68px ${FONT}`, fill: '#000',
      align: 'center', verticalAlign: 'middle', textAlign: 'center', textVerticalAlign: 'middle'
    }
  }))
}

chart.setOption(option)
</script>
</body>
</html>
